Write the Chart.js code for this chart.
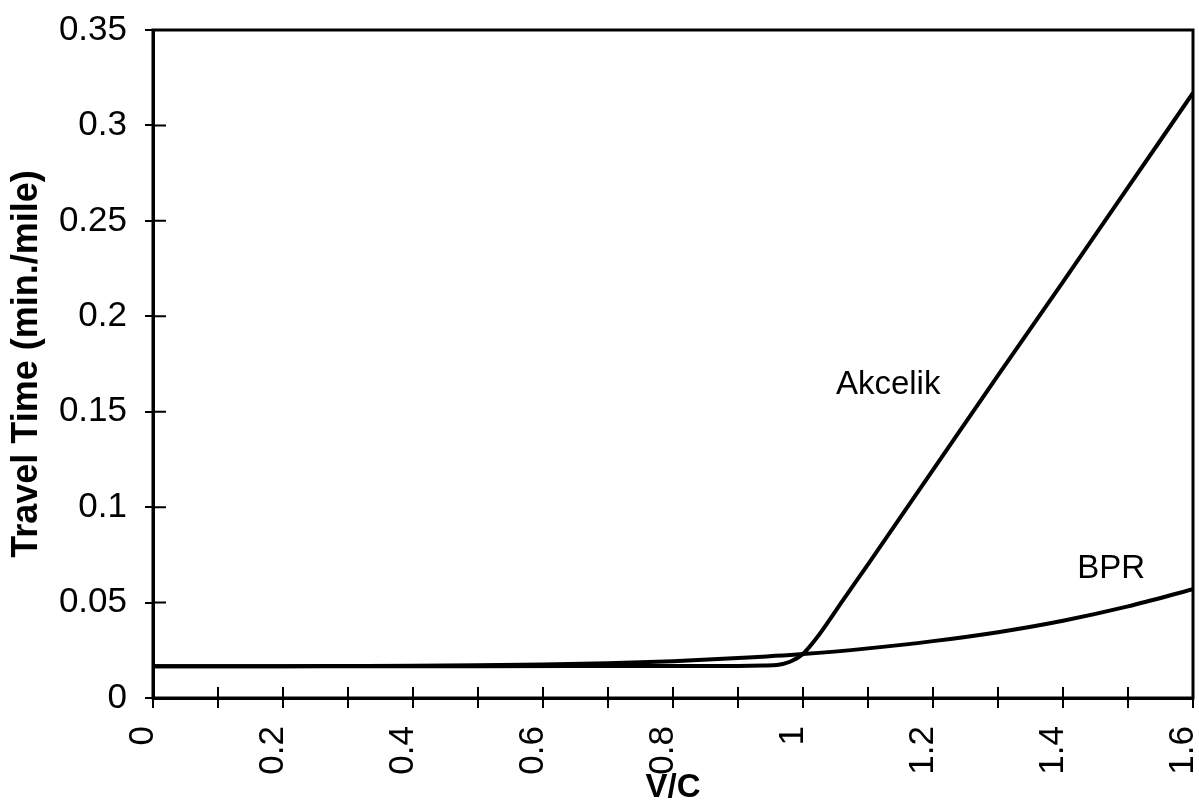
<!DOCTYPE html>
<html>
<head>
<meta charset="utf-8">
<script src="https://cdn.jsdelivr.net/npm/chart.js@4.4.1/dist/chart.umd.min.js"></script>
<style>
    body { margin: 0; background: #fff; }
    #wrap { width: 1199px; height: 808px; position: relative; }
</style>
</head>
<body>
<div id="wrap"><canvas id="travelChart"></canvas></div>
<script>
// V/C ratios and travel times
const akcelikVC   = [0, 0.5, 0.9, 0.94, 0.96, 0.98, 1.0, 1.02, 1.04, 1.06, 1.1, 1.2, 1.3, 1.4, 1.5, 1.6];
const akcelikTime = [0.0167, 0.0167, 0.0168, 0.0170, 0.0173, 0.0190, 0.0231, 0.0310, 0.0405, 0.0505, 0.0700, 0.1195, 0.1690, 0.2180, 0.2675, 0.3170];

const bprVC   = [0, 0.1, 0.2, 0.3, 0.4, 0.5, 0.6, 0.7, 0.8, 0.9, 1.0, 1.1, 1.2, 1.3, 1.4, 1.5, 1.6];
const bprTime = [0.0167, 0.0167, 0.0167, 0.0168, 0.0169, 0.0171, 0.0175, 0.0182, 0.0193, 0.0209, 0.0230, 0.0260, 0.0298, 0.0345, 0.0405, 0.0480, 0.0570];

// curve labels, placed in data coordinates
const curveLabels = [
    { text: 'Akcelik', x: 1.131, y: 0.164 },
    { text: 'BPR', x: 1.474, y: 0.0676 }
];

const FONT = "'Liberation Sans', Arial, sans-serif";

const toPoints = (xs, ys) => xs.map((x, i) => ({ x: x, y: ys[i] }));

// frame, inner tick marks and curve labels
const framePlugin = {
    id: 'frame',
    afterDraw(chart) {
        const { ctx, chartArea: a, scales } = chart;
        ctx.save();
        ctx.strokeStyle = '#000';
        ctx.lineWidth = 3;
        ctx.strokeRect(a.left, a.top, a.right - a.left, a.bottom - a.top);

        // ticks cross the axes, so draw the inside half here
        ctx.lineWidth = 2;
        ctx.beginPath();
        scales.x.ticks.forEach(t => {
            const px = scales.x.getPixelForValue(t.value);
            ctx.moveTo(px, a.bottom);
            ctx.lineTo(px, a.bottom - 11);
        });
        scales.y.ticks.forEach(t => {
            const py = scales.y.getPixelForValue(t.value);
            ctx.moveTo(a.left, py);
            ctx.lineTo(a.left + 13, py);
        });
        ctx.stroke();

        ctx.fillStyle = '#000';
        ctx.font = `33px ${FONT}`;
        ctx.textAlign = 'center';
        ctx.textBaseline = 'middle';
        curveLabels.forEach(l => {
            ctx.fillText(l.text, scales.x.getPixelForValue(l.x), scales.y.getPixelForValue(l.y));
        });
        ctx.restore();
    }
};

new Chart(document.getElementById('travelChart'), {
    type: 'line',
    data: {
        datasets: [
            {
                label: 'Akcelik',
                data: toPoints(akcelikVC, akcelikTime),
                borderColor: '#000',
                borderWidth: 4,
                pointRadius: 0,
                cubicInterpolationMode: 'monotone'
            },
            {
                label: 'BPR',
                data: toPoints(bprVC, bprTime),
                borderColor: '#000',
                borderWidth: 4,
                pointRadius: 0,
                cubicInterpolationMode: 'monotone'
            }
        ]
    },
    options: {
        responsive: true,
        maintainAspectRatio: false,
        animation: false,
        layout: { padding: { top: 30, right: 6, left: 0, bottom: 0 } },
        plugins: {
            legend: { display: false },
            tooltip: { enabled: false }
        },
        scales: {
            x: {
                type: 'linear',
                min: 0,
                max: 1.6,
                afterFit: (scale) => {
                    scale.height = 110;
                    scale.paddingLeft = 0;
                    scale.paddingRight = 0;
                },
                border: { display: true, color: '#000', width: 3 },
                grid: { drawOnChartArea: false, color: '#000', lineWidth: 2, tickLength: 10 },
                ticks: {
                    stepSize: 0.1,
                    autoSkip: false,
                    minRotation: 90,
                    maxRotation: 90,
                    padding: 18,
                    labelOffset: -10,
                    color: '#000',
                    font: { family: FONT, size: 35 },
                    callback: (v) => {
                        const tenths = Math.round(v * 10);
                        return tenths % 2 === 0 ? String(tenths / 10) : '';
                    }
                },
                title: {
                    display: true,
                    text: 'V/C',
                    color: '#000',
                    padding: 0,
                    font: { family: FONT, size: 33, weight: 'bold' }
                }
            },
            y: {
                min: 0,
                max: 0.35,
                afterFit: (scale) => {
                    scale.width = 153;
                    scale.paddingTop = 0;
                    scale.paddingBottom = 0;
                },
                border: { display: true, color: '#000', width: 3 },
                grid: { drawOnChartArea: false, color: '#000', lineWidth: 2, tickLength: 8 },
                ticks: {
                    stepSize: 0.05,
                    padding: 18,
                    color: '#000',
                    font: { family: FONT, size: 35 },
                    callback: (v) => String(Number(v.toFixed(2)))
                },
                title: {
                    display: true,
                    text: 'Travel Time (min./mile)',
                    color: '#000',
                    padding: { top: 5, bottom: 0 },
                    font: { family: FONT, size: 36, weight: 'bold' }
                }
            }
        }
    },
    plugins: [framePlugin]
});
</script>
</body>
</html>
